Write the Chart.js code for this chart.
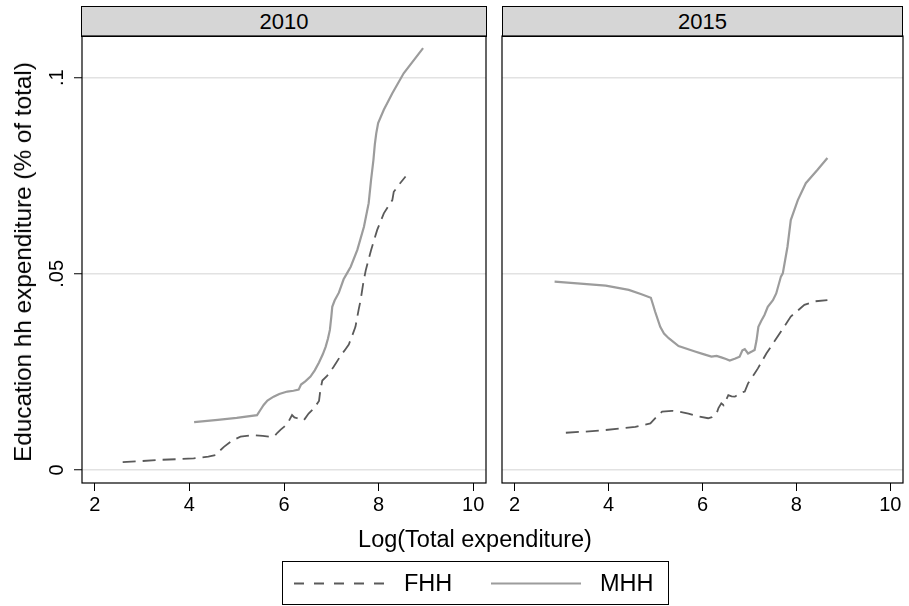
<!DOCTYPE html>
<html>
<head>
<meta charset="utf-8">
<script src="https://cdn.jsdelivr.net/npm/chart.js@4/dist/chart.umd.min.js"></script>
<style>
  html, body { margin: 0; padding: 0; background: #fff; }
  body { width: 909px; height: 606px; position: relative; overflow: hidden;
         font-family: "Liberation Sans", Arial, Helvetica, sans-serif; color: #000; }
  .panel-head { position: absolute; top: 6px; height: 31px; box-sizing: border-box;
                border: 1px solid #000; background: #d6d6d6; text-align: center;
                font-size: 22px; line-height: 29px; }
  canvas { position: absolute; }
  #ytitle { position: absolute; left: 23px; top: 262px; white-space: nowrap; font-size: 24.3px;
            transform: translate(-50%, -50%) rotate(-90deg); }
  #xtitle { position: absolute; left: 475px; top: 539px; white-space: nowrap; font-size: 23.5px;
            transform: translate(-50%, -50%); }
  #legend { position: absolute; left: 282px; top: 561px; width: 387px; height: 44px;
            box-sizing: border-box; border: 1px solid #000; background: #fff; }
  #legend svg { position: absolute; left: 0; top: 0; }
  #legend span { position: absolute; top: 50%; transform: translateY(-50%); font-size: 23.5px; }
</style>
</head>
<body>

<div class="panel-head" style="left:81px; width:406px;">2010</div>
<div class="panel-head" style="left:502px; width:401px;">2015</div>

<canvas id="c2010" width="490" height="530" style="left:0; top:0;"></canvas>
<canvas id="c2015" width="412" height="530" style="left:497px; top:0;"></canvas>

<div id="ytitle">Education hh expenditure (% of total)</div>
<div id="xtitle">Log(Total expenditure)</div>

<div id="legend">
  <svg width="387" height="44">
    <line x1="11" y1="21.5" x2="101" y2="21.5" stroke="#5a5a5a" stroke-width="1.8" stroke-dasharray="10 10"/>
    <line x1="208" y1="21.5" x2="298" y2="21.5" stroke="#9c9c9c" stroke-width="2"/>
  </svg>
  <span style="left:121px;">FHH</span>
  <span style="left:317px;">MHH</span>
</div>

<script>
// Smoothed education share of household spending by log total expenditure
const xTicks = [2, 4, 6, 8, 10];
const yTicks = [0, 0.05, 0.1];

// 2010, male-headed households
const mhh2010X = [4.10, 4.60, 5.00, 5.43, 5.50, 5.57, 5.65, 5.78, 5.90, 6.07, 6.20, 6.31, 6.36, 6.45,
  6.56, 6.65, 6.74, 6.82, 6.88, 6.93, 6.97, 7.00, 7.02, 7.07, 7.16, 7.26, 7.34, 7.41, 7.55, 7.69,
  7.79, 7.84, 7.89, 7.92, 7.95, 7.99, 8.11, 8.29, 8.53, 8.94];
const mhh2010Y = [0.0122, 0.0128, 0.0133, 0.0140, 0.0153, 0.0166, 0.0177, 0.0187, 0.0194, 0.0200,
  0.0202, 0.0205, 0.0218, 0.0226, 0.0238, 0.0254, 0.0274, 0.0295, 0.0314, 0.0335, 0.0357, 0.0390,
  0.0416, 0.0432, 0.0452, 0.0486, 0.0503, 0.0518, 0.0561, 0.0620, 0.0680, 0.0739, 0.0790, 0.0830,
  0.0858, 0.0884, 0.0918, 0.0960, 0.1011, 0.1075];

// 2010, female-headed households
const fhh2010X = [2.59, 3.00, 3.39, 3.80, 4.09, 4.40, 4.55, 4.65, 4.73, 4.90, 5.08, 5.36, 5.55, 5.71,
  5.80, 5.86, 5.93, 6.00, 6.08, 6.17, 6.22, 6.28, 6.35, 6.42, 6.52, 6.63, 6.74, 6.77, 6.81, 6.91,
  7.05, 7.19, 7.30, 7.37, 7.45, 7.51, 7.58, 7.62, 7.68, 7.73, 7.84, 7.97, 8.11, 8.29, 8.32, 8.45, 8.57];
const fhh2010Y = [0.0020, 0.0023, 0.0026, 0.0028, 0.0030, 0.0034, 0.0038, 0.0050, 0.0059, 0.0075,
  0.0085, 0.0089, 0.0087, 0.0085, 0.0087, 0.0095, 0.0103, 0.0110, 0.0120, 0.0140, 0.0134, 0.0132,
  0.0128, 0.0127, 0.0144, 0.0157, 0.0176, 0.0205, 0.0228, 0.0240, 0.0263, 0.0290, 0.0308, 0.0320,
  0.0345, 0.0365, 0.0410, 0.0433, 0.0480, 0.0510, 0.0560, 0.0612, 0.0654, 0.0688, 0.0709, 0.0730, 0.0748];

// 2015, male-headed households
const mhh2015X = [2.85, 3.40, 3.94, 4.43, 4.70, 4.90, 4.95, 4.99, 5.10, 5.18, 5.28, 5.49, 5.84, 6.00,
  6.19, 6.30, 6.40, 6.50, 6.58, 6.70, 6.79, 6.85, 6.90, 6.97, 7.05, 7.11, 7.15, 7.19, 7.25, 7.32,
  7.39, 7.50, 7.57, 7.67, 7.71, 7.81, 7.88, 8.03, 8.20, 8.45, 8.66];
const mhh2015Y = [0.0480, 0.0475, 0.0470, 0.0459, 0.0448, 0.0439, 0.0420, 0.0404, 0.0365, 0.0348,
  0.0336, 0.0316, 0.0302, 0.0296, 0.0289, 0.0291, 0.0287, 0.0283, 0.0279, 0.0284, 0.0289, 0.0305,
  0.0308, 0.0297, 0.0302, 0.0306, 0.0330, 0.0365, 0.0380, 0.0395, 0.0416, 0.0433, 0.0450, 0.0493,
  0.0501, 0.0569, 0.0637, 0.0688, 0.0731, 0.0765, 0.0795];

// 2015, female-headed households
const fhh2015X = [3.09, 3.50, 3.94, 4.57, 4.89, 5.00, 5.14, 5.35, 5.50, 5.70, 5.90, 6.12, 6.20, 6.30,
  6.34, 6.40, 6.45, 6.55, 6.62, 6.69, 6.80, 6.90, 6.97, 7.05, 7.11, 7.18, 7.36, 7.60, 7.88, 8.17, 8.40, 8.66];
const fhh2015Y = [0.0095, 0.0098, 0.0102, 0.0110, 0.0119, 0.0133, 0.0149, 0.0151, 0.0149, 0.0144,
  0.0137, 0.0132, 0.0135, 0.0144, 0.0158, 0.0170, 0.0165, 0.0191, 0.0188, 0.0187, 0.0196, 0.0200,
  0.0221, 0.0235, 0.0246, 0.0259, 0.0297, 0.0340, 0.0391, 0.0421, 0.0430, 0.0433];

const zip = (xs, ys) => xs.map((x, i) => ({ x: x, y: ys[i] }));

Chart.defaults.font.family = '"Liberation Sans", Arial, Helvetica, sans-serif';
Chart.defaults.color = '#000';

// black box round each plot region
const frame = {
  id: 'frame',
  afterDraw(chart) {
    const a = chart.chartArea, ctx = chart.ctx;
    ctx.save();
    ctx.strokeStyle = '#000';
    ctx.lineWidth = 1.2;
    ctx.strokeRect(a.left, a.top, a.right - a.left, a.bottom - a.top);
    ctx.restore();
  }
};

function makePanel(id, fhhX, fhhY, mhhX, mhhY, showY, yWidth, padRight) {
  return new Chart(document.getElementById(id), {
    type: 'scatter',
    data: {
      datasets: [
        { label: 'FHH', data: zip(fhhX, fhhY), showLine: true, pointRadius: 0,
          borderColor: '#5a5a5a', borderWidth: 1.8, borderDash: [13, 7], tension: 0 },
        { label: 'MHH', data: zip(mhhX, mhhY), showLine: true, pointRadius: 0,
          borderColor: '#9c9c9c', borderWidth: 2.2, tension: 0 }
      ]
    },
    options: {
      responsive: false,
      animation: false,
      layout: { padding: { top: 36, right: padRight, left: 0, bottom: 0 } },
      plugins: { legend: { display: false }, tooltip: { enabled: false } },
      scales: {
        x: {
          type: 'linear', min: 1.73, max: 10.27,
          afterBuildTicks: s => { s.ticks = xTicks.map(v => ({ value: v })); },
          afterFit: s => { s.height = 47; },
          border: { display: false },
          grid: { drawOnChartArea: false, drawTicks: true, tickLength: 8, tickColor: '#000', tickWidth: 1 },
          ticks: { font: { size: 20 }, padding: 2, maxRotation: 0, autoSkip: false,
                   callback: v => String(v) }
        },
        y: {
          type: 'linear', min: -0.0033, max: 0.1106,
          afterBuildTicks: s => { s.ticks = yTicks.map(v => ({ value: v })); },
          afterFit: s => { s.width = yWidth; },
          border: { display: false },
          grid: { color: '#e2e2e2', lineWidth: 1.5, drawTicks: showY, tickLength: 8,
                  tickColor: '#000', tickWidth: 1 },
          ticks: { display: showY, font: { size: 20 }, padding: 3, crossAlign: 'center',
                   minRotation: 90, maxRotation: 90,
                   callback: v => (v === 0 ? '0' : String(v).replace(/^0/, '')) }
        }
      }
    },
    plugins: [frame]
  });
}

makePanel('c2010', fhh2010X, fhh2010Y, mhh2010X, mhh2010Y, true, 82, 4);
makePanel('c2015', fhh2015X, fhh2015Y, mhh2015X, mhh2015Y, false, 5, 6);
</script>
</body>
</html>
